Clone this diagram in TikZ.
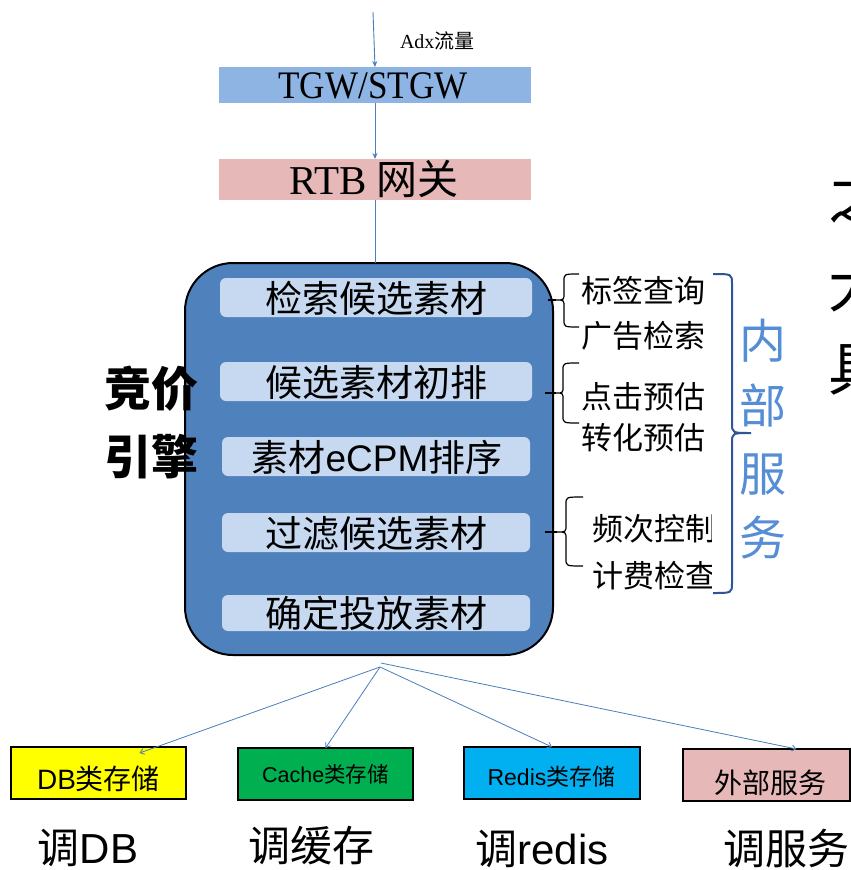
\documentclass[tikz,border=0pt]{standalone}
\usepackage{fontspec}
\setmainfont{Liberation Sans}
\newfontfamily\cjk{Noto Sans CJK SC}
\newfontfamily\tnr{Liberation Serif}
\usetikzlibrary{arrows.meta,calc}
\definecolor{tgwblue}{HTML}{8DB4E2}
\definecolor{rtbpink}{HTML}{E6B9B8}
\definecolor{engblue}{HTML}{4F81BD}
\definecolor{barblue}{HTML}{C6D9F1}
\definecolor{linkblue}{HTML}{4A7EBB}
\definecolor{bracedark}{HTML}{2F5597}
\definecolor{svcblue}{HTML}{558ED5}
\definecolor{dbyellow}{HTML}{FFFF00}
\definecolor{cachegreen}{HTML}{00B050}
\definecolor{redisblue}{HTML}{00B0F0}
\newcommand{\fs}[1]{\fontsize{#1}{#1}\selectfont}
\newcommand{\mybracel}[7]{%
  \draw[bracestyle] (#1,#4) .. controls (#2,#4) .. (#2,#4+7) -- (#2,#5-7)
    .. controls (#2,#5) .. (#3,#5) .. controls (#2,#5) .. (#2,#5+7)
    -- (#2,#6-7) .. controls (#2,#6) .. (#1,#6);
  \draw[bracestyle] (#7,#5) -- (#3,#5);}
\begin{document}
\begin{tikzpicture}[x=1pt,y=-1pt,
  band/.style={inner sep=0pt, outer sep=0pt, anchor=north west},
  bar/.style={band, fill=barblue, rounded corners=6pt},
  store/.style={band, draw=black, line width=1.5pt},
  txt/.style={inner sep=0pt, outer sep=0pt, anchor=base},
  txtw/.style={inner sep=0pt, outer sep=0pt, anchor=base west},
  link/.style={draw=linkblue, line width=0.9pt},
  toptip/.style={-{Stealth[length=6pt,width=5pt]}},
  bottip/.style={-{Straight Barb[length=4pt,width=6pt]}},
  bracestyle/.style={draw=black, line width=1.2pt},
]
\useasboundingbox (0,0) rectangle (851,870);
\fill[white] (0,0) rectangle (851,870);

% top bands
\node[band, fill=tgwblue, minimum width=312pt, minimum height=36pt] (tgw) at (219,67) {};
\node[band, fill=rtbpink, minimum width=312pt, minimum height=41pt] (rtb) at (219,159) {};
\node[txt, font=\tnr\fs{39}, xscale=0.9] (tgwt) at (373,98) {TGW/STGW};
\node[txt, font=\fs{41}] (rtbt) at (374,194) {{\tnr RTB }{\cjk 网关}};
\node[txtw, font=\fs{20}] (adx) at (400,48) {{\tnr Adx}{\cjk 流量}};

% engine box
\node[band, draw=black, line width=2pt, fill=engblue, rounded corners=48pt,
      minimum width=368pt, minimum height=392pt] (eng) at (185,263) {};
\node[bar, minimum width=312pt, minimum height=39pt] (b1) at (220,278) {};
\node[bar, minimum width=312pt, minimum height=39pt] (b2) at (220,362) {};
\node[bar, minimum width=308pt, minimum height=39pt] (b3) at (222,437) {};
\node[bar, minimum width=308pt, minimum height=39pt] (b4) at (222,513) {};
\node[bar, minimum width=308pt, minimum height=36pt] (b5) at (222,595) {};
\node[txt, font=\cjk\fs{37}] (t1) at (376,312) {检索候选素材};
\node[txt, font=\cjk\fs{37}] (t2) at (376,396) {候选素材初排};
\node[txt, font=\fs{37}] (t3) at (377,471) {{\cjk 素材}eCPM{\cjk 排序}};
\node[txt, font=\cjk\fs{37}] (t4) at (376,547) {过滤候选素材};
\node[txt, font=\cjk\fs{37}] (t5) at (376,627) {确定投放素材};

\node[txt, font=\cjk\bfseries\fs{47}] (jj1) at (151,406) {竞价};
\node[txt, font=\cjk\bfseries\fs{47}] (jj2) at (151,474) {引擎};

% connectors top
\coordinate (src) at (373,12);
\draw[link, toptip] (src) -- (tgw.north);
\draw[link, toptip] (tgw.south) -- (rtb.north);
\draw[link] (rtb.south) -- (rtb.south |- eng.north);

% braces
\mybracel{579}{564}{556}{274}{300}{327}{548}
\mybracel{579}{563}{556}{363}{393}{423}{545}
\mybracel{583}{566}{557}{497}{532}{566}{545}
\draw[draw=bracedark, line width=2pt] (713,274) .. controls (732,274) .. (732,284) -- (732,423)
  .. controls (732,433) .. (751,433) .. controls (732,433) .. (732,443)
  -- (732,583) .. controls (732,593) .. (713,593);

% right labels
\node[txtw, font=\cjk\fs{31}] (l1) at (581,302) {标签查询};
\node[txtw, font=\cjk\fs{31}] (l2) at (581,347) {广告检索};
\node[txtw, font=\cjk\fs{31}] (l3) at (581,408) {点击预估};
\node[txtw, font=\cjk\fs{31}] (l4) at (581,449) {转化预估};
\begin{scope}
\clip (585,490) rectangle (711,600);
\node[txtw, font=\cjk\fs{31}] (l5) at (592,540) {频次控制};
\node[txtw, font=\cjk\fs{31}] (l6) at (592,587) {计费检查};
\end{scope}

\node[txt, font=\cjk\fs{47}, text=svcblue] (s1) at (763,358) {内};
\node[txt, font=\cjk\fs{47}, text=svcblue] (s2) at (763,423) {部};
\node[txt, font=\cjk\fs{47}, text=svcblue] (s3) at (763,491) {服};
\node[txt, font=\cjk\fs{47}, text=svcblue] (s4) at (763,555) {务};

% clipped text at right edge
\node[txtw, font=\cjk\fs{58}] (r1) at (828,219) {之};
\node[txtw, font=\cjk\fs{58}] (r2) at (828,307) {大};
\node[txtw, font=\cjk\fs{58}] (r3) at (828,390) {具};

% bottom storage boxes
\node[store, fill=dbyellow, minimum width=175pt, minimum height=52pt] (db) at (11,747) {};
\node[store, fill=cachegreen, minimum width=175pt, minimum height=52pt] (cache) at (238,748) {};
\node[store, fill=redisblue, minimum width=176pt, minimum height=52pt] (redis) at (464,747) {};
\node[store, fill=rtbpink, minimum width=167pt, minimum height=52pt] (ext) at (683,749) {};
\node[txt, font=\fs{28}] (dbt) at (98.5,789) {DB{\cjk 类存储}};
\node[txt, font=\fs{21.5}] (cat) at (325.5,782) {Cache{\cjk 类存储}};
\node[txt, font=\fs{23}] (ret) at (551.5,785) {Redis{\cjk 类存储}};
\node[txt, font=\cjk\fs{28}] (extt) at (770.5,793) {外部服务};

\coordinate (hub) at (380,667);
\coordinate (hub2) at (381,663);
\draw[link, line width=0.8pt, bottip] (hub) -- ($(db.north)+(41,6)$);
\draw[link, line width=0.8pt, bottip] (hub) -- (cache.north);
\draw[link, line width=0.8pt, bottip] (hub) -- (redis.north);
\draw[link, line width=0.8pt, bottip] (hub2) -- ($(ext.north)+(30,0)$);

% bottom labels
\node[txt, font=\fs{42}] (c1) at (88,863) {{\cjk 调}DB};
\node[txt, font=\cjk\fs{42}] (c2) at (311.5,861) {调缓存};
\node[txt, font=\fs{42}] (c3) at (542,864) {{\cjk 调}redis};
\node[txt, font=\cjk\fs{42}] (c4) at (786.5,864) {调服务};
\end{tikzpicture}
\end{document}
